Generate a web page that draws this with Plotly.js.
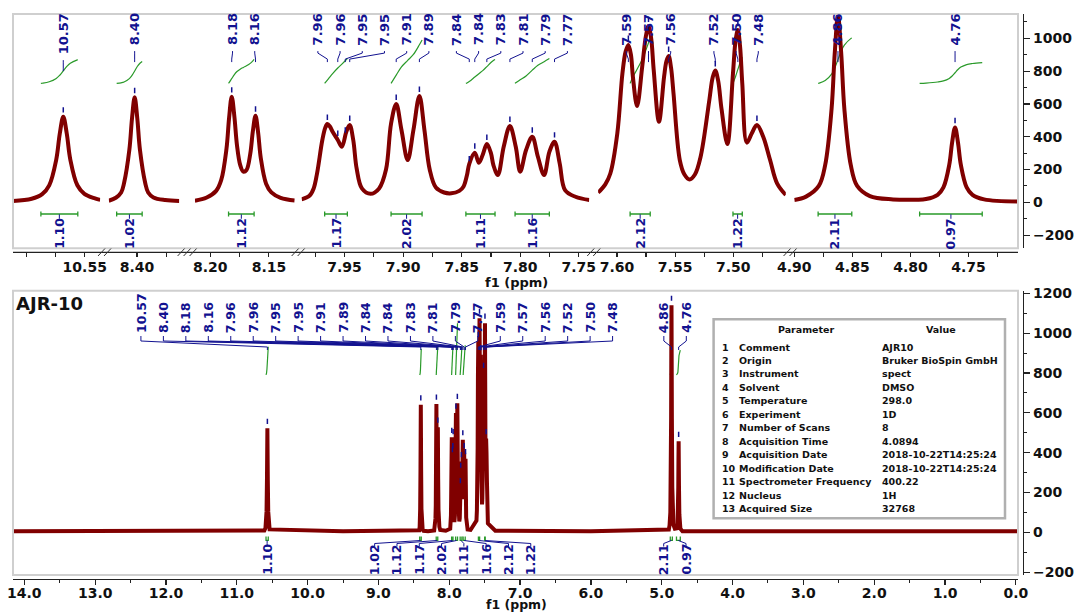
<!DOCTYPE html>
<html><head><meta charset="utf-8">
<script src="https://cdn.plot.ly/plotly-3.0.1.min.js"></script>
<style>html,body{margin:0;padding:0;background:#fff}#chart{width:1075px;height:613px}</style>
</head><body><div id="chart"></div>
<script>
// ================= DATA =================
// Spectrum, zoomed segments of the top panel (ppm, intensity)
const seg1Ppm = [10.6112, 10.5953, 10.5863, 10.5803, 10.5743, 10.5713, 10.5683, 10.5653, 10.5623, 10.5563, 10.5503, 10.5413, 10.5368];
const seg1Int = [9, 22, 50, 104, 261, 418, 522, 418, 261, 104, 52, 24, 15];
const seg2Ppm = [8.424, 8.418, 8.4135, 8.411, 8.4065, 8.40425, 8.402, 8.39975, 8.3975, 8.393, 8.3905, 8.386, 8.376, 8.364];
const seg2Int = [10, 28, 60, 118, 320, 512, 640, 512, 320, 118, 60, 30, 14, 8];
const seg3Ppm = [8.2131, 8.203, 8.195, 8.1907, 8.1862, 8.18395, 8.1817, 8.17945, 8.1772, 8.1745, 8.1718, 8.1691, 8.1659, 8.16365, 8.1614, 8.15915, 8.1569, 8.1524, 8.1479, 8.140, 8.128];
const seg3Int = [10, 30, 70, 135, 325, 514, 644, 524, 347, 228, 187, 197, 296, 435, 528, 423, 269, 114, 61, 28, 12];
const seg4Ppm = [7.9867, 7.980, 7.9764, 7.9735, 7.969, 7.9665, 7.9647, 7.9625, 7.9602, 7.9558, 7.9523, 7.9485, 7.9456, 7.9426, 7.9397, 7.9352, 7.9279, 7.9205, 7.9146, 7.9103, 7.9059, 7.9014, 7.8961, 7.8912, 7.8861, 7.8818, 7.8773, 7.8720, 7.8650, 7.8588, 7.8520, 7.8485, 7.8455, 7.8435, 7.8388, 7.8353, 7.8320, 7.8285, 7.8250, 7.8229, 7.8191, 7.8141, 7.8088, 7.8038, 7.800, 7.795, 7.7897, 7.7849, 7.7796, 7.7751, 7.7707, 7.7663, 7.7617, 7.7528, 7.741];
const seg4Int = [18, 40, 85, 177, 380, 455, 477, 462, 430, 380, 339, 430, 471, 380, 207, 85, 52, 85, 200, 480, 599, 441, 258, 441, 648, 441, 200, 90, 60, 55, 70, 95, 165, 235, 302, 241, 290, 355, 300, 227, 166, 339, 465, 339, 187, 319, 400, 278, 166, 308, 370, 238, 75, 34, 14];
const seg5Ppm = [7.6162, 7.6100, 7.6057, 7.5997, 7.5953, 7.5925, 7.5902, 7.5880, 7.5863, 7.5827, 7.5783, 7.5752, 7.5729, 7.5706, 7.5684, 7.5639, 7.5595, 7.5575, 7.5556, 7.5535, 7.5514, 7.5460, 7.5420, 7.5376, 7.5330, 7.5281, 7.5206, 7.5178, 7.5155, 7.5130, 7.5101, 7.5051, 7.5003, 7.4980, 7.4961, 7.4942, 7.4923, 7.4884, 7.4842, 7.4797, 7.4743, 7.4684, 7.4624, 7.4549];
const seg5Int = [59, 110, 176, 420, 786, 920, 959, 900, 766, 587, 827, 1010, 1075, 1000, 806, 491, 766, 860, 892, 820, 664, 258, 170, 140, 170, 278, 624, 760, 803, 740, 567, 355, 786, 990, 1050, 950, 725, 364, 420, 471, 400, 258, 116, 45];
const seg6Ppm = [4.9000, 4.8899, 4.8789, 4.8734, 4.8679, 4.86515, 4.8624, 4.85965, 4.8569, 4.8514, 4.8459, 4.8349, 4.815, 4.795, 4.7866, 4.7766, 4.7716, 4.7666, 4.7641, 4.7616, 4.7591, 4.7566, 4.7516, 4.7466, 4.7366, 4.7074];
const seg6Int = [14, 35, 100, 228, 570, 912, 1140, 912, 570, 228, 100, 38, 18, 16, 20, 46, 91, 228, 366, 457, 366, 228, 91, 46, 18, 5];
// flat baseline read from the full-range (bottom) panel, outside the zoomed segments
const baselinePpm = [14.16, 12.0, 9.5, 8.30, 8.05, 7.70, 7.35, 6.0, 4.60, 2.0, -0.03];
const baselineInt = [5, 5, 5, 6, 8, 12, 8, 5, 5, 5, 5];

// Picked peaks
const peakPpm = [10.5683, 8.402, 8.1817, 8.1614, 7.9647, 7.9558, 7.9494, 7.9456, 7.9059, 7.8861, 7.8435, 7.8388, 7.8285, 7.8088, 7.7897, 7.7707, 7.5902, 7.5729, 7.5556, 7.5155, 7.4961, 7.4797, 4.8624, 4.7616];
const peakHeight = [522, 640, 644, 528, 477, 380, 400, 471, 599, 648, 225, 302, 355, 465, 400, 370, 959, 1075, 892, 803, 1050, 471, 1140, 457];
const peakLabels = ['10.57','8.40','8.18','8.16','7.96','7.96','7.95','7.95','7.91','7.89','7.84','7.84','7.83','7.81','7.79','7.77','7.59','7.57','7.56','7.52','7.50','7.48','4.86','4.76'];

// Integrals
const integralFrom = [10.5874, 8.4173, 8.1844, 7.967, 7.9103, 7.8464, 7.8044, 7.5887, 7.5003, 4.8795, 4.7921];
const integralTo   = [10.5559, 8.3956, 8.1626, 7.9476, 7.8838, 7.8215, 7.7751, 7.5714, 7.4923, 4.8505, 4.7382];
const integralValues = [1.10, 1.02, 1.12, 1.17, 2.02, 1.11, 1.16, 2.12, 1.22, 2.11, 0.97];

// Axis ticks of the zoomed segments
const segTickVals = [[10.60,10.575,10.55],[8.40,8.375],[8.20,8.175,8.15],[7.975,7.95,7.925,7.90,7.875,7.85,7.825,7.80,7.775,7.75],[7.60,7.575,7.55,7.525,7.50,7.475],[4.90,4.875,4.85,4.825,4.80,4.775,4.75,4.725]];
const segTickText = [['','','10.55'],['8.40',''],['8.20','','8.15'],['','7.95','','7.90','','7.85','','7.80','','7.75'],['7.60','','7.55','','7.50',''],['4.90','','4.85','','4.80','','4.75','']];

// Parameter table
const paramNames = ['Comment','Origin','Instrument','Solvent','Temperature','Experiment','Number of Scans','Acquisition Time','Acquisition Date','Modification Date','Spectrometer Frequency','Nucleus','Acquired Size'];
const paramValues = ['AJR10','Bruker BioSpin GmbH','spect','DMSO','298.0','1D','8','4.0894','2018-10-22T14:25:24','2018-10-22T14:25:24','400.22','1H','32768'];
const sampleName = 'AJR-10';
const axisTitle = 'f1 (ppm)';

// ================= LAYOUT GEOMETRY =================
const PL = 12.7, PR = 1022.7, PT = 14, PB = 579;
const fx = px => (px - PL) / (PR - PL);
const fy = py => (PB - py) / (PB - PT);
const segDomPx = [[12.7,99.9],[108.5,179],[194.6,294.4],[301.3,589],[597.8,785.5],[794,1017.7]];
const segRanges = [[10.6112,10.5368],[8.424,8.364],[8.2131,8.128],[7.9867,7.741],[7.6162,7.4549],[4.90,4.7074]];
const botDomPx = [12.7, 1017.7];
const botRange = [14.16, -0.03];
const topYRange = [-280, 1148];
const botYRange = [-214, 1213];

const NAVY = '#121290', GREEN = '#2a9a2a', RED = '#800000', FONT = 'DejaVu Sans', INK = '#111';
const segPpmArr = [seg1Ppm, seg2Ppm, seg3Ppm, seg4Ppm, seg5Ppm, seg6Ppm];
const segIntArr = [seg1Int, seg2Int, seg3Int, seg4Int, seg5Int, seg6Int];
const axName = i => i === 0 ? 'x' : 'x' + (i + 1);
const segOf = p => segRanges.findIndex(r => p <= r[0] && p >= r[1]);
const segPx = (i, p) => { const r = segRanges[i], d = segDomPx[i]; return d[0] + (r[0] - p) / (r[0] - r[1]) * (d[1] - d[0]); };
const segPpmAt = (i, px) => { const r = segRanges[i], d = segDomPx[i]; return r[0] - (px - d[0]) / (d[1] - d[0]) * (r[0] - r[1]); };
const botPx = p => botDomPx[0] + (botRange[0] - p) / (botRange[0] - botRange[1]) * (botDomPx[1] - botDomPx[0]);
const botPpmAt = px => botRange[0] - (px - botDomPx[0]) / (botDomPx[1] - botDomPx[0]) * (botRange[0] - botRange[1]);

// label de-overlap (clusters centred on the extent of their peaks)
function spread(pxs, gap, thr) {
  let cl = pxs.map((p, k) => ({lo: p, hi: p, idx: [k]}));
  let merged = true;
  while (merged) {
    merged = false;
    for (let i = 0; i < cl.length - 1; i++) {
      const a = cl[i], b = cl[i + 1];
      const aEnd = (a.lo + a.hi) / 2 + (a.idx.length - 1) * gap / 2;
      const bStart = (b.lo + b.hi) / 2 - (b.idx.length - 1) * gap / 2;
      if (bStart - aEnd < thr) {
        cl.splice(i, 2, {lo: Math.min(a.lo, b.lo), hi: Math.max(a.hi, b.hi), idx: a.idx.concat(b.idx)});
        merged = true; break;
      }
    }
  }
  const out = new Array(pxs.length);
  cl.forEach(c => { const n = c.idx.length, ctr = (c.lo + c.hi) / 2; c.idx.forEach((k, j) => out[k] = ctr + (j - (n - 1) / 2) * gap); });
  return out;
}

// integral curve = running sum of the spectrum over the region
function integralCurve(ppm, val, from, to, value, base, scale) {
  const interp = p => { for (let i = 0; i < ppm.length - 1; i++) { if (ppm[i] >= p && p >= ppm[i + 1]) { const t = (ppm[i] - p) / (ppm[i] - ppm[i + 1]); return val[i] + t * (val[i + 1] - val[i]); } } return 0; };
  const xs = [from], ys = [interp(from)];
  for (let i = 0; i < ppm.length; i++) if (ppm[i] < from && ppm[i] > to) { xs.push(ppm[i]); ys.push(val[i]); }
  xs.push(to); ys.push(interp(to));
  const cum = [0];
  for (let i = 1; i < xs.length; i++) cum.push(cum[i - 1] + (xs[i - 1] - xs[i]) * (ys[i - 1] + ys[i]) / 2);
  const tot = cum[cum.length - 1] || 1;
  return {x: xs, y: cum.map(c => base + c / tot * value * scale)};
}

const traces = [], shapes = [], annotations = [];
// full spectrum for the bottom panel: zoomed segments + flat baseline, ordered by ppm
const fullPairs = [];
segPpmArr.forEach((arr, i) => arr.forEach((p, j) => fullPairs.push([p, segIntArr[i][j]])));
baselinePpm.forEach((p, j) => fullPairs.push([p, baselineInt[j]]));
fullPairs.sort((a, b) => b[0] - a[0]);
const fullPpm = fullPairs.map(d => d[0]);
const fullInt = fullPairs.map(d => d[1]);

// ---- integral curves (drawn first, under the spectrum) ----
integralFrom.forEach((f, k) => {
  const mid = (f + integralTo[k]) / 2, i = segOf(mid);
  const c = integralCurve(segPpmArr[i], segIntArr[i], f, integralTo[k], integralValues[k], 725, 131);
  traces.push({x: c.x, y: c.y, xaxis: axName(i), yaxis: 'y', mode: 'lines', line: {color: GREEN, width: 1.2, shape: 'spline'}, hoverinfo: 'skip'});
  const cb = integralCurve(fullPpm, fullInt, f, integralTo[k], integralValues[k], 790, 128.5);
  traces.push({x: cb.x, y: cb.y, xaxis: 'x7', yaxis: 'y2', mode: 'lines', line: {color: GREEN, width: 1.2}, hoverinfo: 'skip'});
});

// ---- spectrum ----
segPpmArr.forEach((arr, i) => {
  traces.push({x: arr, y: segIntArr[i], xaxis: axName(i), yaxis: 'y', mode: 'lines', line: {color: RED, width: 4, shape: 'spline', smoothing: 1}, hoverinfo: 'skip'});
});
traces.push({x: fullPpm, y: fullInt, xaxis: 'x7', yaxis: 'y2', mode: 'lines', line: {color: RED, width: 4}, hoverinfo: 'skip'});

// ---- frames, axis line, breaks ----
shapes.push({type: 'rect', xref: 'paper', yref: 'paper', x0: fx(12.7), x1: fx(1017.7), y0: fy(248.3), y1: fy(14), line: {color: '#cfcfcf', width: 2}});
shapes.push({type: 'rect', xref: 'paper', yref: 'paper', x0: fx(12.7), x1: fx(1017.7), y0: fy(575), y1: fy(290.7), line: {color: '#cfcfcf', width: 2}});
shapes.push({type: 'line', xref: 'paper', yref: 'paper', x0: fx(12.7), x1: fx(1017.7), y0: fy(252.3), y1: fy(252.3), line: {color: '#222', width: 1.3}});
for (let g = 0; g < segDomPx.length - 1; g++) {
  const c = (segDomPx[g][1] + segDomPx[g + 1][0]) / 2;
  const gapPx = segDomPx[g + 1][0] - segDomPx[g][1];
  const offs = gapPx > 12 ? [-6, 0, 6] : [-3, 3];
  offs.forEach(o => shapes.push({type: 'line', xref: 'paper', yref: 'paper', x0: fx(c + o - 3.5), x1: fx(c + o + 3.5), y0: fy(256), y1: fy(248.5), line: {color: '#333', width: 1}}));
}

// ---- peak labels, top panel ----
const labelFontTop = 13;
const topLabelPpm = new Array(peakPpm.length);
segRanges.forEach((r, i) => {
  const ks = peakPpm.map((p, k) => k).filter(k => segOf(peakPpm[k]) === i);
  const pos = spread(ks.map(k => segPx(i, peakPpm[k])), 22.2, 25.5);
  ks.forEach((k, j) => topLabelPpm[k] = segPpmAt(i, pos[j]));
});
peakPpm.forEach((p, k) => {
  const i = segOf(p), ax = axName(i), L = topLabelPpm[k];
  const digits = peakLabels[k].replace('.', '').length;
  const len = labelFontTop * (0.696 * digits + 0.38) + 2;
  const y0 = 14 + len + 3;
  annotations.push({xref: ax, yref: 'paper', x: L, y: fy(12.5), xanchor: 'center', yanchor: 'top', text: '<b>' + peakLabels[k] + '</b>', textangle: -90, showarrow: false, font: {family: FONT, size: labelFontTop, color: NAVY}, borderpad: 0});
  shapes.push({type: 'path', xref: ax, yref: 'paper', path: `M${L},${fy(y0)} L${L},${fy(y0 + 2)} L${p},${fy(y0 + 8)} L${p},${fy(y0 + 11)}`, line: {color: NAVY, width: 1}});
  shapes.push({type: 'line', xref: ax, yref: 'y', x0: p, x1: p, y0: peakHeight[k] + 25, y1: peakHeight[k] + 58, line: {color: NAVY, width: 1.5}});
});

// ---- peak labels, bottom panel ----
const botLabelPx = spread(peakPpm.map(botPx), 22.46, 25.8);
peakPpm.forEach((p, k) => {
  const L = botPpmAt(botLabelPx[k]);
  annotations.push({xref: 'x7', yref: 'paper', x: L, y: fy(334), xanchor: 'center', yanchor: 'bottom', text: '<b>' + peakLabels[k] + '</b>', textangle: -90, showarrow: false, font: {family: FONT, size: 12.5, color: NAVY}, borderpad: 0});
  shapes.push({type: 'path', xref: 'x7', yref: 'paper', path: `M${L},${fy(336)} L${L},${fy(341)} L${p},${fy(347)} L${p},${fy(350)}`, line: {color: NAVY, width: 1}});
  shapes.push({type: 'line', xref: 'x7', yref: 'y2', x0: p, x1: p, y0: peakHeight[k] + 22, y1: peakHeight[k] + 48, line: {color: NAVY, width: 1.5}});
});

// ---- integral brackets & labels ----
const botIntPx = spread(integralFrom.map((f, k) => botPx((f + integralTo[k]) / 2)), 22.3, 25.5);
integralFrom.forEach((f, k) => {
  const t = integralTo[k], mid = (f + t) / 2, i = segOf(mid), ax = axName(i);
  const txt = '<b>' + integralValues[k].toFixed(2) + '</b>';
  shapes.push({type: 'path', xref: ax, yref: 'y', path: `M${f},-56 L${f},-86 M${f},-71 L${t},-71 M${t},-56 L${t},-86`, line: {color: GREEN, width: 1.3}});
  shapes.push({type: 'line', xref: ax, yref: 'y', x0: mid, x1: mid, y0: -73, y1: -100, line: {color: NAVY, width: 1}});
  annotations.push({xref: ax, yref: 'paper', x: mid, y: fy(250), xanchor: 'center', yanchor: 'bottom', text: txt, textangle: -90, showarrow: false, font: {family: FONT, size: 12.5, color: NAVY}, borderpad: 0});
  // bottom panel
  const L = botPpmAt(botIntPx[k]);
  shapes.push({type: 'path', xref: 'x7', yref: 'y2', path: `M${f},-21 L${f},-40 L${t},-40 L${t},-21`, line: {color: GREEN, width: 1.3}});
  shapes.push({type: 'path', xref: 'x7', yref: 'paper', path: `M${mid},${fy(540.5)} L${L},${fy(543.5)} L${L},${fy(546.5)}`, line: {color: NAVY, width: 1}});
  annotations.push({xref: 'x7', yref: 'paper', x: L, y: fy(576), xanchor: 'center', yanchor: 'bottom', text: txt, textangle: -90, showarrow: false, font: {family: FONT, size: 12.5, color: NAVY}, borderpad: 0});
});

// ---- titles ----
annotations.push({xref: 'paper', yref: 'paper', x: fx(14), y: fy(290.5), xanchor: 'left', yanchor: 'top', text: '<b>' + sampleName + '</b>', showarrow: false, font: {family: FONT, size: 18, color: INK}});
annotations.push({xref: 'paper', yref: 'paper', x: fx(516), y: fy(291), xanchor: 'center', yanchor: 'bottom', text: '<b>' + axisTitle + '</b>', showarrow: false, font: {family: FONT, size: 13, color: INK}, borderpad: 0});
annotations.push({xref: 'paper', yref: 'paper', x: fx(516), y: fy(613.5), xanchor: 'center', yanchor: 'bottom', text: '<b>' + axisTitle + '</b>', showarrow: false, font: {family: FONT, size: 12.5, color: INK}, borderpad: 0});

// ---- parameter table ----
shapes.push({type: 'rect', xref: 'paper', yref: 'paper', x0: fx(713.3), x1: fx(1004.7), y0: fy(518.3), y1: fy(319.3), fillcolor: '#fff', line: {color: '#b0b0b0', width: 2.5}});
const tf = {family: FONT, size: 9.5, color: INK};
annotations.push({xref: 'paper', yref: 'paper', x: fx(806), y: fy(329), xanchor: 'center', yanchor: 'middle', text: '<b>Parameter</b>', showarrow: false, font: tf});
annotations.push({xref: 'paper', yref: 'paper', x: fx(941), y: fy(329), xanchor: 'center', yanchor: 'middle', text: '<b>Value</b>', showarrow: false, font: tf});
paramNames.forEach((n, r) => {
  const yy = fy(347 + r * 13.47);
  annotations.push({xref: 'paper', yref: 'paper', x: fx(720.5), y: yy, xanchor: 'left', yanchor: 'middle', text: '<b>' + (r + 1) + '</b>', showarrow: false, font: tf, borderpad: 0});
  annotations.push({xref: 'paper', yref: 'paper', x: fx(737.5), y: yy, xanchor: 'left', yanchor: 'middle', text: '<b>' + n + '</b>', showarrow: false, font: tf, borderpad: 0});
  annotations.push({xref: 'paper', yref: 'paper', x: fx(880.5), y: yy, xanchor: 'left', yanchor: 'middle', text: '<b>' + paramValues[r] + '</b>', showarrow: false, font: tf, borderpad: 0});
});

// ---- axes ----
const tickFont = {family: FONT, size: 14, color: INK, weight: 'bold'};
const layout = {
  width: 1075, height: 613, margin: {l: PL, r: 1075 - PR, t: PT, b: 613 - PB, pad: 0},
  paper_bgcolor: '#fff', plot_bgcolor: 'rgba(0,0,0,0)', showlegend: false,
  font: {family: FONT, color: INK}, shapes: shapes, annotations: annotations
};
segRanges.forEach((r, i) => {
  layout[i === 0 ? 'xaxis' : 'xaxis' + (i + 1)] = {
    domain: [fx(segDomPx[i][0]), fx(segDomPx[i][1])], range: r, autorange: false,
    anchor: 'free', position: fy(252.3), showline: false, showgrid: false, zeroline: false,
    ticks: 'outside', ticklen: 4, tickwidth: 1.2, tickcolor: '#222', ticklabelstandoff: -2,
    tickmode: 'array', tickvals: segTickVals[i], ticktext: segTickText[i], tickfont: tickFont, fixedrange: true
  };
});
layout.xaxis7 = {
  domain: [fx(botDomPx[0]), fx(botDomPx[1])], range: botRange, autorange: false,
  anchor: 'free', position: 0, showline: true, linecolor: '#222', linewidth: 1.3,
  showgrid: false, zeroline: false, ticks: 'outside', ticklen: 5, tickwidth: 1.2, tickcolor: '#222', ticklabelstandoff: -4,
  tick0: 0, dtick: 1, tickformat: '.1f', tickfont: tickFont,
  minor: {dtick: 0.5, ticklen: 3, ticks: 'outside', tickcolor: '#222', tickwidth: 1}
};
const yCommon = {
  anchor: 'free', position: 1, side: 'right', showline: true, linecolor: '#222', linewidth: 1.3,
  showgrid: false, zeroline: false, ticks: 'outside', ticklen: 6, tickwidth: 1.2, tickcolor: '#222',
  tick0: 0, dtick: 200, tickfont: tickFont, autorange: false,
  minor: {dtick: 100, ticklen: 3, ticks: 'outside', tickcolor: '#222', tickwidth: 1}
};
layout.yaxis = Object.assign({}, yCommon, {domain: [fy(248.3), fy(14)], range: topYRange});
layout.yaxis2 = Object.assign({}, yCommon, {domain: [fy(575), fy(290.7)], range: botYRange});

Plotly.newPlot('chart', traces, layout, {displayModeBar: false, staticPlot: true});
</script></body></html>
